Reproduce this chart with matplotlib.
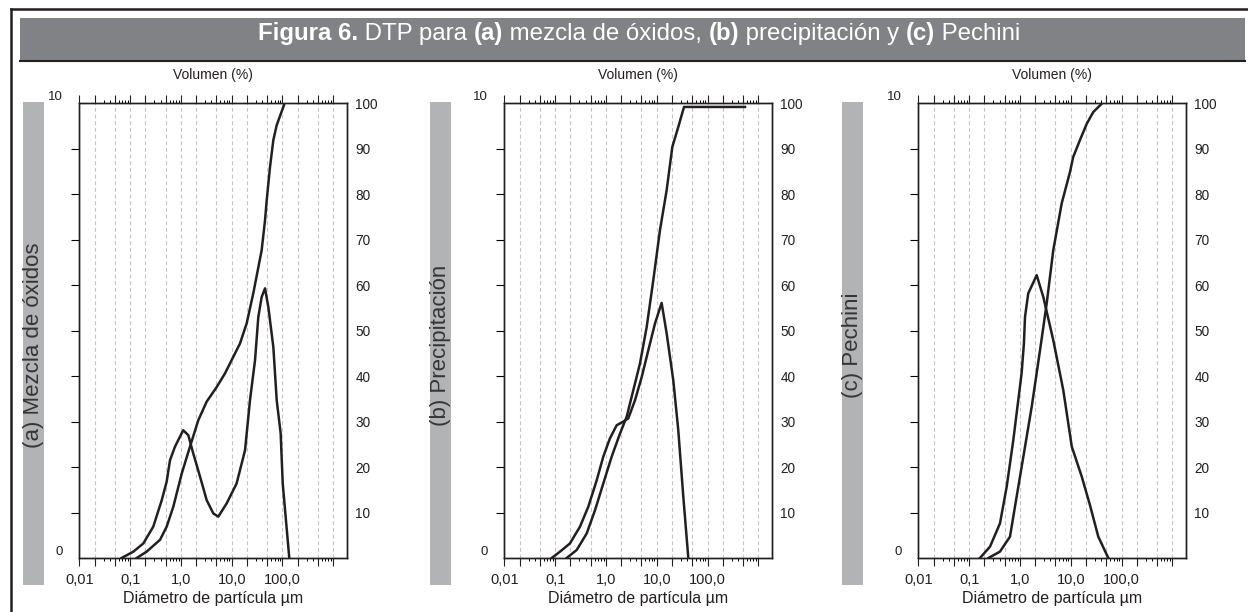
import matplotlib
matplotlib.use('Agg')
import matplotlib.pyplot as plt
from matplotlib import font_manager
from matplotlib.patches import Rectangle
from matplotlib.lines import Line2D
from matplotlib.ticker import FixedLocator, FuncFormatter, NullFormatter

# ---- data ----
# (a) mezcla de oxidos
a_freq_x = [0.068, 0.116, 0.182, 0.286, 0.419, 0.525, 0.61, 0.766, 1.11, 1.40, 1.75, 2.38, 3.22,
            4.35, 5.45, 7.95, 12.5, 18.3, 22.9, 28.8, 33.4, 38.9, 45.3, 52.6, 66, 76.9, 92, 101, 136]
a_freq_y = [0, 0.14, 0.32, 0.69, 1.27, 1.68, 2.15, 2.45, 2.81, 2.70, 2.30, 1.79, 1.27,
            0.98, 0.91, 1.20, 1.64, 2.37, 3.47, 4.35, 5.30, 5.74, 5.93, 5.52, 4.64, 3.47, 2.74, 1.64, 0]
a_cum_x = [0.135, 0.212, 0.388, 0.525, 0.71, 1.04, 1.51, 2.2, 3.22, 5.07, 7.38, 10.7, 14.6,
           19.7, 26.6, 38.9, 45.3, 48.9, 56.8, 66, 76.9, 107]
a_cum_y = [0, 1.4, 4.0, 6.9, 11.3, 18.6, 24.5, 30.3, 34.4, 37.6, 40.6, 44.2, 47.2,
           51.6, 58.2, 67.7, 74.3, 78.7, 86, 91.9, 95.2, 99.6]

# (b) precipitacion
b_freq_x = [0.0857, 0.125, 0.196, 0.309, 0.451, 0.659, 0.889, 1.20, 1.63, 2.2, 2.76, 3.74, 5.07,
            6.84, 9.27, 12.5, 15.7, 21.2, 26.6, 33.4, 41.9]
b_freq_y = [0, 0.14, 0.32, 0.69, 1.13, 1.71, 2.23, 2.63, 2.92, 3.0, 3.07, 3.47, 3.98,
            4.57, 5.16, 5.61, 4.94, 3.91, 2.81, 1.35, 0]
b_cum_x = [0.169, 0.266, 0.419, 0.61, 0.889, 1.30, 1.90, 2.57, 3.46, 4.69, 6.35, 8.57, 11.6,
           15.7, 20.3, 26.6, 34.5, 547]
b_cum_y = [0, 1.76, 5.4, 10.5, 16.4, 22.3, 27.4, 31.1, 36.9, 42.8, 50.8, 61.1, 72.1,
           80.9, 90.4, 94.8, 99.2, 99.2]

# (c) Pechini
c_freq_x = [0.164, 0.258, 0.405, 0.55, 0.741, 1.08, 1.2, 1.26, 1.46, 2.14, 2.89, 4.54, 7.15,
            10.5, 16.5, 24, 34.9, 55]
c_freq_y = [0, 0.25, 0.76, 1.57, 2.59, 4.06, 4.72, 5.30, 5.82, 6.22, 5.74, 4.79, 3.69,
            2.45, 1.79, 1.16, 0.47, 0]
c_cum_x = [0.24, 0.405, 0.638, 0.80, 1.17, 1.71, 2.49, 3.37, 4.54, 6.65, 9.69, 11.2, 15.2,
           20.7, 27.9, 40.7]
c_cum_y = [0, 1.4, 4.7, 11.3, 22.3, 33.3, 45.7, 56.0, 67.7, 78.0, 84.9, 88.2, 91.9,
           95.5, 98.1, 99.9]

panel_names = ['(a) Mezcla de óxidos', '(b) Precipitación', '(c) Pechini']
freq_x = [a_freq_x, b_freq_x, c_freq_x]
freq_y = [a_freq_y, b_freq_y, c_freq_y]
cum_x = [a_cum_x, b_cum_x, c_cum_x]
cum_y = [a_cum_y, b_cum_y, c_cum_y]

x_label_vals = [0.01, 0.1, 1, 10, 100]
x_label_text = ['0,01', '0,1', '1,0', '10,0', '100,0']
right_ticks = [10, 20, 30, 40, 50, 60, 70, 80, 90, 100]

title_parts = [('Figura 6.', 'bold'), (' DTP para ', 'normal'), ('(a)', 'bold'),
               (' mezcla de óxidos, ', 'normal'), ('(b)', 'bold'),
               (' precipitación y ', 'normal'), ('(c)', 'bold'), (' Pechini', 'normal')]

# ---- style ----
installed = {f.name for f in font_manager.fontManager.ttflist}
narrow = 'Liberation Sans Narrow' if 'Liberation Sans Narrow' in installed else 'Liberation Sans'
plt.rcParams['font.family'] = ['Liberation Sans', 'DejaVu Sans']

W, H = 1248, 612
fig = plt.figure(figsize=(W / 100, H / 100), dpi=100)
fig.patch.set_facecolor('white')


def fx(px):
    return px / W


def fy(py):
    return 1 - py / H


ink = '#231f20'

# outer frame (only left and top edges are inside the picture)
fig.add_artist(Line2D([fx(11), fx(11)], [fy(9), 0], color=ink, lw=1.8))
fig.add_artist(Line2D([fx(11), 1], [fy(9), fy(9)], color=ink, lw=1.8))

# header band
fig.add_artist(Rectangle((fx(19.5), fy(61.7)), fx(1245) - fx(19.5), fy(18.3) - fy(61.7),
                         transform=fig.transFigure, facecolor='#808285', edgecolor='none'))
fig.add_artist(Line2D([fx(19.5), fx(1245)], [fy(61), fy(61)], color=ink, lw=1.5))

# header text, pieces laid out one after another
renderer = fig.canvas.get_renderer()
pieces = []
for s, w in title_parts:
    t = fig.text(0, fy(40), s, color='white', fontsize=17.3, fontweight=w, va='baseline', ha='left')
    pieces.append(t)
widths = [p.get_window_extent(renderer).width for p in pieces]
x0 = 639 - sum(widths) / 2
for p, wd in zip(pieces, widths):
    p.set_x(fx(x0))
    x0 += wd

# tick positions
major_x = []
minor_x = []
for dec in [0.01, 0.1, 1, 10, 100, 1000]:
    for m in (1, 2, 5):
        if m * dec <= 1000:
            major_x.append(m * dec)
    if dec < 1000:
        for m in (3, 4, 6, 7, 8, 9):
            minor_x.append(m * dec)
grid_x = major_x[1:]


def xfmt(v, pos):
    for val, txt in zip(x_label_vals, x_label_text):
        if abs(v / val - 1) < 1e-6:
            return txt
    return ''


ax_left = [79.3, 504.3, 918.3]
bar_left = [23, 430, 842]
ax_w = 268
decade = 50.8
x_max = 10 ** (ax_w / decade - 2)

for i in range(3):
    # grey side bar with panel name
    fig.add_artist(Rectangle((fx(bar_left[i]), fy(585)), fx(21), fy(102.5) - fy(585),
                             transform=fig.transFigure, facecolor='#b1b3b5', edgecolor='none'))
    fig.text(fx(bar_left[i] + 10.5), fy(345.5), panel_names[i], rotation=90, ha='center',
             va='center', fontsize=16, color='#353535')

    ax = fig.add_axes([fx(ax_left[i]), fy(558), fx(ax_w), fy(103.3) - fy(558)])
    ax.set_xscale('log')
    ax.set_xlim(0.01, x_max)
    ax.set_ylim(0, 10)

    for g in grid_x:
        ax.axvline(g, color='#c4c4c4', lw=0.8, ls=(0, (3.5, 2.5)), zorder=0)

    ax.xaxis.set_major_locator(FixedLocator(major_x))
    ax.xaxis.set_minor_locator(FixedLocator(minor_x))
    ax.xaxis.set_major_formatter(FuncFormatter(xfmt))
    ax.xaxis.set_minor_formatter(NullFormatter())
    ax.tick_params(axis='x', which='major', direction='out', length=5.5, width=0.8,
                   top=True, bottom=True, pad=5, labelsize=10.5, colors=ink)
    ax.tick_params(axis='x', which='minor', direction='out', length=2.2, width=0.7,
                   top=True, bottom=True)
    for lbl in ax.get_xticklabels():
        lbl.set_fontfamily(narrow)

    ax.set_yticks([0, 10])
    ax.set_yticklabels(['0', '10'])
    ax.yaxis.set_minor_locator(FixedLocator(range(1, 10)))
    ax.tick_params(axis='y', which='major', length=0, pad=11.5, labelsize=9.5, colors=ink)
    ax.tick_params(axis='y', which='minor', direction='out', length=5.5, width=0.8)
    for lbl in ax.get_yticklabels():
        lbl.set_va('bottom')

    for sp in ax.spines.values():
        sp.set_linewidth(1.0)
        sp.set_color(ink)

    ax.plot(freq_x[i], freq_y[i], color=ink, lw=1.8, solid_joinstyle='round', zorder=3)

    ax2 = ax.twinx()
    ax2.set_ylim(0, 100)
    ax2.set_yticks(right_ticks)
    ax2.tick_params(axis='y', length=0, pad=5.8, labelsize=9.8, colors=ink)
    for sp in ax2.spines.values():
        sp.set_linewidth(1.0)
        sp.set_color(ink)
    ax2.plot(cum_x[i], cum_y[i], color=ink, lw=1.8, solid_joinstyle='round', zorder=3)

    ax.text(0.5, 1 + 28 / 454.7, 'Volumen (%)', transform=ax.transAxes, ha='center',
            va='center', fontsize=10, color=ink)
    ax.text(0.5, -40 / 454.7, 'Diámetro de partícula µm', transform=ax.transAxes,
            ha='center', va='center', fontsize=11.5, color=ink)

fig.savefig('out.png', dpi=100)
